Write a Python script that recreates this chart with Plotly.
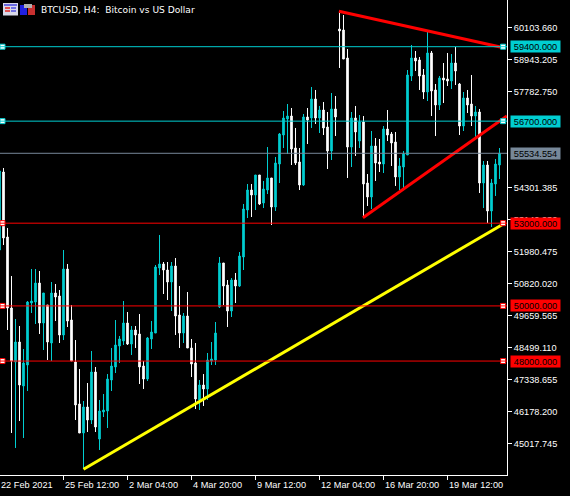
import plotly.graph_objects as go

# ---- data: H4 BTCUSD candles ----
bar_index = list(range(-1, 125))
opens = [52027,54856,52499,49924,47966,48691,47096,47857,50105,50141,50830,49380,50033,48655,50468,50359,48945,51338,49489,47966,46443,45391,46334,45863,47603,45173,46153,46189,47313,47785,48546,48727,49380,48618,49126,48981,47821,47349,48800,49017,51375,51520,51302,50867,51447,49670,49017,49634,48474,47930,46588,47132,46987,48002,48038,49960,51556,50758,49815,50939,50722,51774,53478,54203,54022,54747,53732,54203,54638,53587,55146,56198,56778,56887,55726,55219,54385,56851,56814,57503,56814,57104,56488,55617,57141,60042,60006,58990,55762,56814,55980,56669,54457,53950,55799,55219,55146,56415,56234,55944,54675,55037,55473,58337,58990,58918,58374,57757,59172,57830,57286,58265,58229,58156,58809,58047,56524,57540,57322,56887,57032,54457,55110,53442,54421,55110]
highs = [54892,55001,52826,51084,49525,49271,48437,50178,51338,51338,51266,50105,50033,50867,50794,50577,52027,51520,50033,48763,47712,46552,47204,48365,47785,46588,46805,47530,48474,49489,48909,50178,49779,49271,49271,49706,48002,48872,49452,51483,52572,51592,51592,51592,51737,50722,49743,50504,48800,48655,47313,47530,48292,48691,49416,51774,51556,50939,51012,51193,51955,53696,54421,54421,54747,54747,54530,55762,54638,55400,56270,57068,57322,57177,56452,55726,56959,57177,57939,57830,57250,57395,57032,57721,57612,60622,60550,59317,57032,57250,56923,56887,54783,56343,56089,56053,56524,57104,56307,56307,55364,55617,58555,59462,59244,59026,58591,59933,59244,58047,58337,58809,59172,59135,59389,58084,57757,57830,58374,57250,57141,55255,55255,54602,55328,55726]
lows = [52027,52208,49126,45391,44848,45826,45210,46914,49743,49344,48981,48401,48038,48002,49452,48655,48763,49235,48002,45863,45391,44086,45427,45717,45427,44775,45971,45572,46914,47567,47930,48582,48582,48220,48474,47168,46987,47277,48437,49017,51120,50432,50214,49815,48945,48474,48655,48474,47422,46262,46225,46370,46588,47857,47857,49924,50033,49235,49598,50105,50686,51302,53188,53224,53478,53659,53550,54058,52934,53442,54457,55726,55509,55110,55110,54203,54349,55871,56452,56597,56270,56198,54965,55291,56161,58628,58954,54638,55037,55436,55726,53260,53623,53514,54530,54856,54820,55980,55074,54349,54203,54276,55473,58156,58519,57830,57503,57431,56887,56161,57104,57358,57975,57866,58011,56198,56343,56996,56524,56125,54094,53550,53007,52862,53986,54602]
closes = [54892,52463,49924,48002,48691,47132,47930,50141,50178,50830,49380,50468,48691,50468,50323,48945,51338,49452,48002,46407,45391,46334,45863,47603,45609,46189,46225,47349,47821,48582,48800,49380,48618,49126,48945,47785,47349,48836,49054,51411,51520,51302,50867,51447,49634,49017,49634,48474,47894,46624,47132,46987,48038,48075,49017,51556,50722,49815,50939,50722,51810,53514,54203,54022,54747,53696,54240,54638,53587,55183,56234,56814,56887,55690,55183,54385,56851,56742,57503,56814,57104,56452,55617,57141,56851,59969,58954,55762,56814,56307,56669,54421,53950,55799,55183,55146,56415,56198,55908,54675,55074,55509,58374,58990,58881,58337,57757,59172,57793,57286,58265,58192,58156,58809,58519,56524,57540,57286,56887,57032,54457,55110,53442,54457,55146,55534.554]

y_ticks = [45017.745, 46178.200, 47338.655, 48499.110, 49659.565, 50820.020, 51980.475,
           53140.930, 54301.385, 57782.750, 58943.205, 60103.660]
date_labels = ["22 Feb 2021", "25 Feb 12:00", "2 Mar 04:00", "4 Mar 20:00",
               "9 Mar 12:00", "12 Mar 04:00", "16 Mar 20:00", "19 Mar 12:00"]
date_bars = [-0.875, 15, 31, 47, 63, 79, 95, 111]

levels = [59400, 56700, 53000, 50000, 48000]
level_colors = ["#00CED1", "#00CED1", "#FF0000", "#FF0000", "#FF0000"]
level_labels = ["59400.000", "56700.000", "53000.000", "50000.000", "48000.000"]
bid_price = 55534.554
bid_label = "55534.554"

trend_upper_x, trend_upper_y = [83.85, 124.2], [60684, 59389]
trend_mid_x, trend_mid_y = [89.85, 125.85], [53199, 56887]
trend_low_x, trend_low_y = [20, 125.5], [44075, 53017]

# ---- layout constants ----
W, H = 570, 496
PW, PH = 507, 475
FONT = "Liberation Sans"
CYAN = "#00CED1"
GREY = "#778899"


def px(x):
    return x / PW


def py(y):
    return (PH - y) / PH


def rect(x0, y0, x1, y1, color):
    return dict(type="rect", xref="paper", yref="paper", x0=px(x0), x1=px(x1), y0=py(y1), y1=py(y0),
                fillcolor=color, line=dict(width=0), layer="above")


fig = go.Figure()
fig.add_trace(go.Candlestick(
    x=bar_index, open=opens, high=highs, low=lows, close=closes,
    increasing=dict(line=dict(color=CYAN, width=1), fillcolor=CYAN),
    decreasing=dict(line=dict(color="#FFFFFF", width=1), fillcolor="#FFFFFF"),
    whiskerwidth=0, hoverinfo="skip", showlegend=False))

shapes = []
for lv, col in zip(levels, level_colors):
    shapes.append(dict(type="line", xref="paper", yref="y", x0=0, x1=1, y0=lv, y1=lv,
                       line=dict(color=col, width=1), layer="above"))
shapes.append(dict(type="line", xref="paper", yref="y", x0=0, x1=1, y0=bid_price, y1=bid_price,
                   line=dict(color=GREY, width=1), layer="above"))

# title-bar icons
shapes += [
    rect(3, 3, 18, 15.5, "#D8D8E8"), rect(4, 4, 17, 6, "#6A6AE0"),
    rect(5, 7, 10, 9, "#E05050"), rect(5, 10, 10, 12, "#E05050"), rect(11, 7, 16, 9, "#7070E0"),
    rect(11, 10, 16, 12, "#7070E0"),
    rect(20, 5, 27, 15, "#2020E0"), rect(28, 5, 35, 15, "#C83030"), rect(24, 4, 32, 8, "#B0B0B0"),
]

for xs, ys, col in [(trend_upper_x, trend_upper_y, "#FF0000"),
                    (trend_mid_x, trend_mid_y, "#FF0000"),
                    (trend_low_x, trend_low_y, "#FFFF00")]:
    fig.add_trace(go.Scatter(x=xs, y=ys, mode="lines", line=dict(color=col, width=3),
                             hoverinfo="skip", showlegend=False, cliponaxis=True))

# anchor squares of the horizontal lines
anchor_left = -0.25
anchor_right = 124.9
for lv, col in zip(levels, level_colors):
    fig.add_trace(go.Scatter(x=[anchor_left, anchor_right], y=[lv, lv], mode="markers",
                             marker=dict(symbol="square", size=5, color="#FFFFFF",
                                         line=dict(color=col, width=1)),
                             hoverinfo="skip", showlegend=False, cliponaxis=False))

annotations = [dict(xref="paper", yref="paper", x=px(40), y=py(9.5), xanchor="left", yanchor="middle",
                    text="BTCUSD, H4:  Bitcoin vs US Dollar", showarrow=False, borderpad=0,
                    font=dict(family="DejaVu Sans", size=9.1, color="#FFFFFF"))]
for lab, bar in zip(date_labels, date_bars):
    annotations.append(dict(xref="paper", yref="paper", x=px((bar + 0.875) * 4), y=py(484.5),
                            xanchor="left", yanchor="middle", text=lab, showarrow=False, borderpad=0,
                            font=dict(family=FONT, size=9.2, color="#FFFFFF")))
for lv, lab, col in zip(levels, level_labels, level_colors):
    annotations.append(dict(xref="paper", yref="y", x=px(510), y=lv, xanchor="left", yanchor="middle",
                            text=lab, showarrow=False, bgcolor=col, width=49, height=11, borderpad=0,
                            font=dict(family=FONT, size=9.2, color="#000000")))
annotations.append(dict(xref="paper", yref="y", x=px(510), y=bid_price, xanchor="left", yanchor="middle",
                        text=bid_label, showarrow=False, bgcolor=GREY, width=49, height=11, borderpad=0,
                        font=dict(family=FONT, size=9.2, color="#000000")))

fig.update_layout(
    width=W, height=H, margin=dict(l=0, r=W - PW, t=0, b=H - PH, pad=0),
    paper_bgcolor="#000000", plot_bgcolor="#000000", showlegend=False, boxgap=0.42,
    shapes=shapes, annotations=annotations, hovermode=False,
    xaxis=dict(type="linear", range=[-0.875, 125.875], rangeslider=dict(visible=False), showgrid=False,
               zeroline=False, showline=True, linecolor="#FFFFFF", linewidth=1,
               tickmode="array", tickvals=date_bars[1:], ticktext=[""] * 7,
               ticks="outside", ticklen=4, tickcolor="#FFFFFF", tickwidth=1),
    yaxis=dict(side="right", range=[43868.1, 61093.5], showgrid=False, zeroline=False,
               showline=True, linecolor="#FFFFFF", linewidth=1,
               tickmode="array", tickvals=y_ticks, tickformat=".3f",
               ticks="outside", ticklen=4, tickcolor="#FFFFFF", tickwidth=1,
               tickfont=dict(family=FONT, size=9.2, color="#FFFFFF")),
)

fig.write_html("out.html", config=dict(displayModeBar=False),
               post_script="document.body.style.margin='0';document.body.style.background='#000';document.body.style.overflow='hidden';")
